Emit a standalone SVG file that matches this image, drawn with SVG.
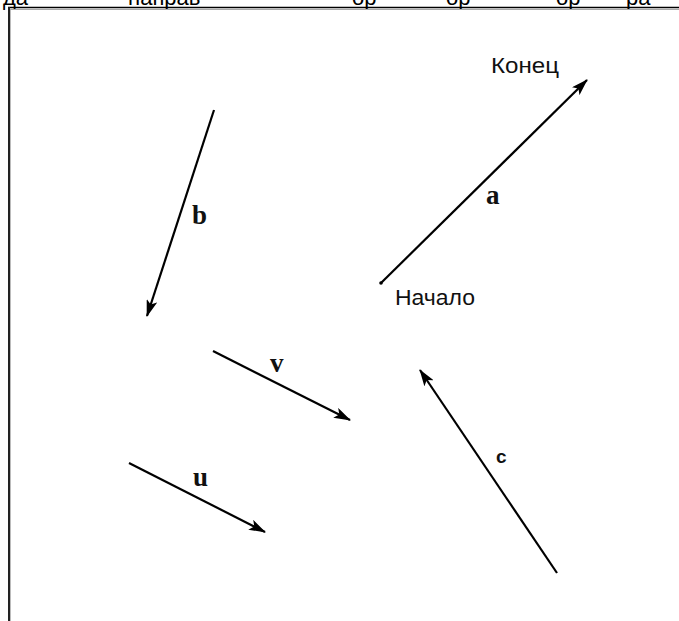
<svg xmlns="http://www.w3.org/2000/svg" width="679" height="621" viewBox="0 0 679 621">
<style>
.vec{stroke:#000;stroke-width:2.2;fill:none}
.lbl{font-family:"Liberation Serif","Times New Roman",serif;font-weight:bold;font-size:27px;fill:#111}
.cap{font-family:"Liberation Sans",Arial,sans-serif;font-size:22px;fill:#111}
.top{font-family:"Liberation Sans",Arial,sans-serif;font-size:22px;fill:#000}
</style>
<defs>
<marker id="ah" viewBox="0 0 17 11" refX="16" refY="5.5" markerWidth="17" markerHeight="11" markerUnits="userSpaceOnUse" orient="auto">
<path d="M0,0 L17,5.5 L0,11 L4,5.5 Z" fill="#000"/>
</marker>
</defs>
<rect width="679" height="621" fill="#fff"/>
<g id="frame">
<text class="top" y="4.5"><tspan x="3">да</tspan><tspan x="128">направ</tspan><tspan x="352">ор</tspan><tspan x="446">ор</tspan><tspan x="556">ор</tspan><tspan x="626">ра</tspan></text>
<line x1="8" y1="7.5" x2="679" y2="7.5" stroke="#000" stroke-width="1.5"/>
<line x1="10" y1="9.5" x2="679" y2="9.5" stroke="#aaa" stroke-width="1"/>
<line x1="9" y1="7" x2="9" y2="621" stroke="#222" stroke-width="2"/>
<line x1="10.5" y1="10" x2="10.5" y2="621" stroke="#bbb" stroke-width="1"/>
</g>
<g id="connectors">
<line class="vec" x1="381" y1="283" x2="587" y2="80" marker-end="url(#ah)"/>
<line class="vec" x1="214" y1="110" x2="147" y2="316" marker-end="url(#ah)"/>
<line class="vec" x1="213" y1="351" x2="350" y2="420" marker-end="url(#ah)"/>
<line class="vec" x1="129" y1="463" x2="265" y2="532" marker-end="url(#ah)"/>
<line class="vec" x1="557" y1="573" x2="420" y2="370" marker-end="url(#ah)"/>
</g>
<g id="vector-a">
<circle cx="381" cy="283" r="1.8" fill="#000"/>
<text class="lbl" x="486" y="204">a</text>
<text class="cap" x="491" y="73" textLength="68" lengthAdjust="spacingAndGlyphs">Конец</text>
<text class="cap" x="395" y="305" textLength="80" lengthAdjust="spacingAndGlyphs">Начало</text>
</g>
<g id="vector-b"><text class="lbl" x="192" y="224">b</text></g>
<g id="vector-v"><text class="lbl" x="270" y="372">v</text></g>
<g id="vector-u"><text class="lbl" x="193" y="486">u</text></g>
<g id="vector-c"><text class="lbl" x="496" y="463" style="font-family:'Liberation Sans',Arial,sans-serif;font-size:19px">c</text></g>
</svg>
